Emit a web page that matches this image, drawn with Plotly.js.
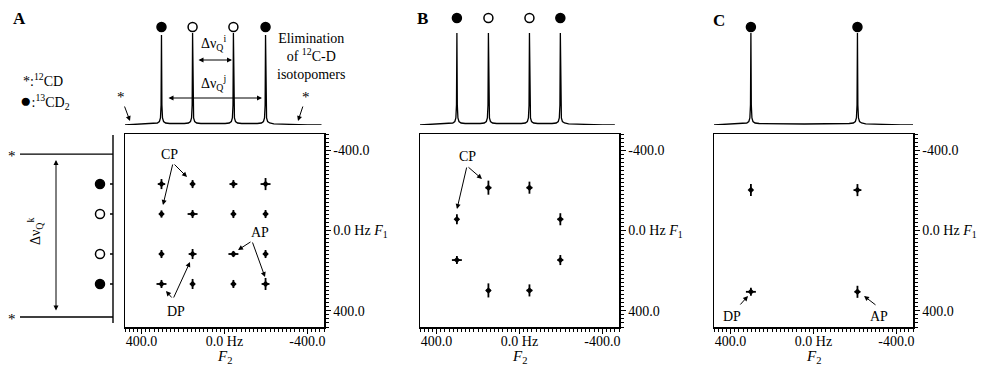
<!DOCTYPE html>
<html>
<head>
<meta charset="utf-8">
<script src="https://cdn.plot.ly/plotly-3.0.1.min.js"></script>
<style>html,body{margin:0;padding:0;background:#fff}</style>
</head>
<body>
<div id="chart" style="width:983px;height:368px"></div>
<script>
// ---------- data (Hz / arbitrary intensity) ----------
// Panel A: 1D F2 spectrum (top)
const specA_x = [480,420, 344,324,314,309,306,304,302,299,294,284,264, 229, 194,174,164,159,156,154,152,149,144,134,114, 56, -3,-23,-33,-38,-41,-43,-45,-48,-53,-63,-83, -120, -158,-178,-188,-193,-196,-198,-200,-203,-208,-218,-238, -300,-400,-468];
const specA_y = [0,0.5, 1.2,2,3.5,7,20,90,20,7,3.5,2,1.5, 1.2, 1.5,2,3.5,7,20,92,20,7,3.5,2,1.5, 1.2, 1.5,2,3.5,7,20,92,20,7,3.5,2,1.5, 1.2, 1.5,2,3.5,7,20,90,20,7,3.5,2,1.2, 0.5,0,0];
const circA_f2 = [304,154,-43,-198];
const circA_sym = ['circle','circle-open','circle-open','circle'];
// Panel A: 2D cross peaks
const crossA_f2 = [304,154,-43,-198, 304,154,-43,-198, 304,154,-43,-198, 304,154,-43,-198];
const crossA_f1 = [-231,-231,-231,-231, -82,-82,-82,-82, 117,117,117,117, 266,266,266,266];
const crossA_dv = [25,20,20,30, 18,20,20,20, 20,25,15,20, 20,25,20,30];
const crossA_dh = [18,10,19,24, 10,24,10,10, 10,19,24,10, 24,7,10,19];
// Panel A: F1 projection (left)
const projF1_hz  = [-475,-380,-380,-380,-231,-231,-231,-82,-82,-82,117,117,117,266,266,266,430,430,430,460];
const projF1_int = [0,0,93,0,0,3,0,0,3,0,0,3,0,0,3,0,0,93,0,0];
const projMark_hz = [-231,-82,117,266];
const projMark_sym = ['circle','circle-open','circle-open','circle'];

// Panel B
const specB_x = [480,420, 342,322,312,307,304,302,300,297,292,282,262, 226, 190,170,160,155,152,150,148,145,140,130,110, 51, -8,-28,-38,-43,-46,-48,-50,-53,-58,-68,-88, -122, -157,-177,-187,-192,-195,-197,-199,-202,-207,-217,-237, -300,-400,-460];
const specB_y = [0,0.5, 1.2,2,3.5,7,20,92,20,7,3.5,2,1.5, 1.2, 1.5,2,3.5,7,20,92,20,7,3.5,2,1.5, 1.2, 1.5,2,3.5,7,20,92,20,7,3.5,2,1.5, 1.2, 1.5,2,3.5,7,20,92,20,7,3.5,2,1.2, 0.5,0,0];
const circB_f2 = [302,150,-48,-197];
const circB_sym = ['circle','circle-open','circle-open','circle'];
const crossB_f2 = [150,-48, 302,-197, 302,-197, 150,-48];
const crossB_f1 = [-213,-213, -56,-56, 147,147, 298,298];
const crossB_dv = [35,30, 25,30, 20,25, 35,30];
const crossB_dh = [14,14, 10,14, 24,14, 12,14];

// Panel C
const specC_x = [480,420, 342,322,312,307,304,302,300,297,292,282,262, 45, -172,-192,-202,-207,-210,-212,-214,-217,-222,-232,-252, -330,-420,-480];
const specC_y = [0,0.5, 1.2,2,3.5,7,20,92,20,7,3.5,2,1.5, 1, 1.5,2,3.5,7,20,92,20,7,3.5,2,1.2, 0.5,0,0];
const circC_f2 = [302,-212];
const circC_sym = ['circle','circle'];
const crossC_f2 = [302,-212, 302,-212];
const crossC_f1 = [-201,-201, 305,305];
const crossC_dv = [30,30, 20,30];
const crossC_dh = [10,19, 24,14];

// tick labels
const f2TickVals = [400,0,-400];
const f2TickText = ['400.0','0.0 Hz','-400.0'];
const f1TickVals = [-400,0,400];
const f1TickText = ['-400.0','0.0 Hz <i>F</i><sub>1</sub>','400.0'];

// ---------- layout helpers ----------
const W = 983, H = 368;
const px = x => x / W;
const py = y => 1 - y / H;
const FONT = 'Liberation Serif, Times New Roman, serif';

function specTrace(x, y, xa, ya) {
  return {x, y, xaxis: xa, yaxis: ya, mode: 'lines', line: {color: 'black', width: 1.3}, hoverinfo: 'skip'};
}
function circTrace(x, sym, level, xa, ya) {
  return {x, y: x.map(() => level), xaxis: xa, yaxis: ya, mode: 'markers', cliponaxis: false,
    marker: {symbol: sym, size: 9, color: 'black', line: {color: 'black', width: 1.5}}, hoverinfo: 'skip'};
}
function crossTrace(x, y, dv, dh, xa, ya) {
  return {x, y, xaxis: xa, yaxis: ya, mode: 'markers',
    marker: {symbol: 'diamond', size: 5, color: 'black'},
    error_y: {type: 'data', array: dv, symmetric: true, color: 'black', thickness: 1.8, width: 0},
    error_x: {type: 'data', array: dh, symmetric: true, color: 'black', thickness: 1.8, width: 0},
    hoverinfo: 'skip'};
}

const traces = [
  specTrace(specA_x, specA_y, 'x', 'y'),
  circTrace(circA_f2, circA_sym, 98, 'x', 'y'),
  crossTrace(crossA_f2, crossA_f1, crossA_dv, crossA_dh, 'x2', 'y2'),
  {x: projF1_int, y: projF1_hz, xaxis: 'x3', yaxis: 'y3', mode: 'lines', line: {color: 'black', width: 1.4}, hoverinfo: 'skip'},
  {x: projMark_hz.map(() => 13), y: projMark_hz, xaxis: 'x3', yaxis: 'y3', mode: 'markers', cliponaxis: false,
   marker: {symbol: projMark_sym, size: 9, color: 'black', line: {color: 'black', width: 1.5}}, hoverinfo: 'skip'},
  specTrace(specB_x, specB_y, 'x4', 'y4'),
  circTrace(circB_f2, circB_sym, 107, 'x4', 'y4'),
  crossTrace(crossB_f2, crossB_f1, crossB_dv, crossB_dh, 'x5', 'y5'),
  specTrace(specC_x, specC_y, 'x6', 'y6'),
  circTrace(circC_f2, circC_sym, 98, 'x6', 'y6'),
  crossTrace(crossC_f2, crossC_f1, crossC_dv, crossC_dh, 'x7', 'y7')
];

const BOX_Y = [py(327), py(134)];
const TOP_Y = [py(125), py(10)];
const boxesX = [[px(125), px(324)], [px(420), px(619)], [px(714), px(913)]];

function hidden(domain, range, anchor) {
  return {domain, range, anchor, visible: false, fixedrange: true};
}
function f2Axis(domain, anchor) {
  return {domain, range: [480, -480], anchor, showline: true, mirror: true, linecolor: 'black', linewidth: 1.5,
    showgrid: false, zeroline: false, ticks: 'outside', ticklen: 5, tickwidth: 1, tickcolor: 'black',
    tickmode: 'array', tickvals: f2TickVals, ticktext: f2TickText, ticklabelstandoff: -4,
    minor: {tickmode: 'linear', tick0: 0, dtick: 20, ticks: 'outside', ticklen: 3, tickwidth: 1, tickcolor: 'black', showgrid: false},
    tickfont: {family: FONT, size: 14, color: 'black'}};
}
function f1Axis(domain, anchor) {
  return {domain, range: [480, -480], anchor, side: 'right', showline: true, mirror: true, linecolor: 'black', linewidth: 1.5,
    showgrid: false, zeroline: false, ticks: 'outside', ticklen: 5, tickwidth: 1, tickcolor: 'black',
    tickmode: 'array', tickvals: f1TickVals, ticktext: f1TickText,
    minor: {tickmode: 'linear', tick0: 0, dtick: 20, ticks: 'outside', ticklen: 3, tickwidth: 1, tickcolor: 'black', showgrid: false},
    tickfont: {family: FONT, size: 14, color: 'black'}};
}

function txt(text, x, y, extra) {
  return Object.assign({xref: 'paper', yref: 'paper', x: px(x), y: py(y), text, showarrow: false,
    xanchor: 'center', yanchor: 'middle', font: {family: FONT, size: 14, color: 'black'}}, extra || {});
}
function arrow(hx, hy, tx, ty, extra) {
  return Object.assign({xref: 'paper', yref: 'paper', x: px(hx), y: py(hy), ax: tx - hx, ay: ty - hy,
    text: '', showarrow: true, arrowhead: 2, arrowsize: 1, arrowwidth: 1, arrowcolor: 'black'}, extra || {});
}
const STAR = {family: FONT, size: 15, color: 'black'};

const annotations = [
  txt('<b>A</b>', 19, 19, {font: {family: FONT, size: 17, color: 'black'}}),
  txt('<b>B</b>', 422, 18, {font: {family: FONT, size: 17, color: 'black'}}),
  txt('<b>C</b>', 719, 20, {font: {family: FONT, size: 17, color: 'black'}}),
  txt('*:<sup>12</sup>CD', 43, 80),
  txt('<span style="font-size:19px">\u25CF</span>:<sup>13</sup>CD<sub>2</sub>', 45, 101),
  txt('Elimination<br>of <sup>12</sup>C-D<br>isotopomers', 311, 57),
  // F2 axis titles
  txt('<i>F</i><sub>2</sub>', 224, 357, {font: {family: FONT, size: 15, color: 'black'}}),
  txt('<i>F</i><sub>2</sub>', 519, 357, {font: {family: FONT, size: 15, color: 'black'}}),
  txt('<i>F</i><sub>2</sub>', 813, 357, {font: {family: FONT, size: 15, color: 'black'}}),
  // delta nu labels
  txt('\u0394\u03BD<sub>Q</sub><sup>i</sup>', 213, 43),
  arrow(232, 60, 197, 60, {arrowside: 'end+start', startarrowhead: 2}),
  txt('\u0394\u03BD<sub>Q</sub><sup>j</sup>', 213, 83),
  arrow(262, 98, 167, 98, {arrowside: 'end+start', startarrowhead: 2}),
  // asterisks on top spectrum
  arrow(130, 121, 121, 97, {text: '*', font: STAR}),
  arrow(298, 121, 306, 97, {text: '*', font: STAR}),
  // F1 projection labels
  txt('*', 12, 156, {font: STAR}),
  txt('*', 12, 319, {font: STAR}),
  arrow(56, 160, 56, 312, {arrowside: 'end+start', startarrowhead: 2}),
  txt('\u0394\u03BD<sub>Q</sub><sup>k</sup>', 35, 232, {textangle: -90}),
  // panel A peak labels
  txt('CP', 169, 154),
  arrow(163, 205, 173, 163),
  arrow(187, 177, 173, 163),
  txt('DP', 176, 311),
  arrow(166, 291, 173, 299),
  arrow(190, 262, 173, 299),
  txt('AP', 260, 232),
  arrow(238, 250, 252, 241),
  arrow(265, 277, 252, 241),
  // panel B
  txt('CP', 467, 156),
  arrow(457, 209, 467, 166),
  arrow(482, 179, 467, 166),
  // panel C
  txt('DP', 732, 316),
  arrow(748, 296, 739, 306),
  txt('AP', 879, 316),
  arrow(864, 296, 877, 306)
];

const layout = {
  width: W, height: H, margin: {l: 0, r: 0, t: 0, b: 0},
  paper_bgcolor: 'white', plot_bgcolor: 'rgba(0,0,0,0)', showlegend: false,
  font: {family: FONT, size: 14, color: 'black'},
  xaxis: hidden(boxesX[0], [480, -480], 'y'),
  yaxis: hidden(TOP_Y, [0, 115], 'x'),
  xaxis2: f2Axis(boxesX[0], 'y2'),
  yaxis2: f1Axis(BOX_Y, 'x2'),
  xaxis3: hidden([0, px(120)], [113, -7], 'y3'),
  yaxis3: hidden(BOX_Y, [480, -480], 'x3'),
  xaxis4: hidden(boxesX[1], [480, -480], 'y4'),
  yaxis4: hidden(TOP_Y, [0, 115], 'x4'),
  xaxis5: f2Axis(boxesX[1], 'y5'),
  yaxis5: f1Axis(BOX_Y, 'x5'),
  xaxis6: hidden(boxesX[2], [480, -480], 'y6'),
  yaxis6: hidden(TOP_Y, [0, 115], 'x6'),
  xaxis7: f2Axis(boxesX[2], 'y7'),
  yaxis7: f1Axis(BOX_Y, 'x7'),
  annotations
};

Plotly.newPlot('chart', traces, layout, {staticPlot: true, displayModeBar: false});
</script>
</body>
</html>
